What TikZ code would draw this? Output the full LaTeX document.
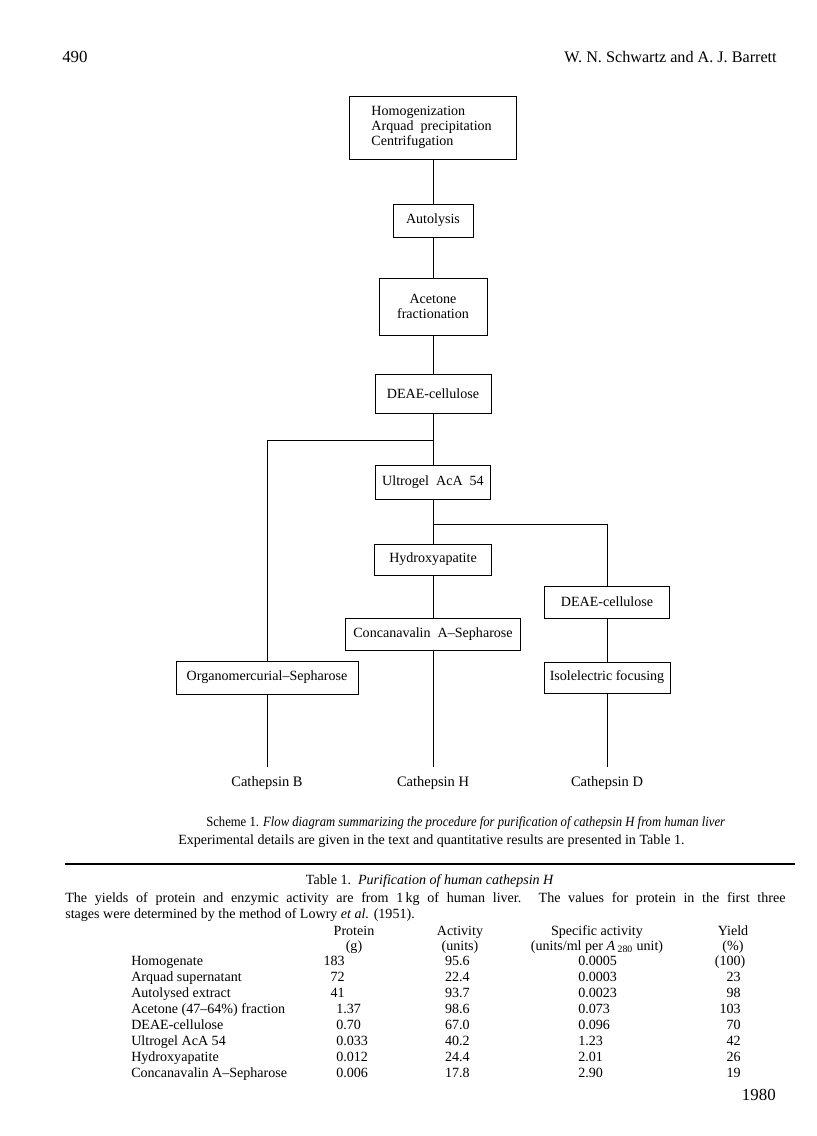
\documentclass[tikz,border=0pt]{standalone}
\usepackage{fontspec}
\setmainfont{Liberation Serif}
\begin{document}
\begin{tikzpicture}[x=0.025cm,y=-0.025cm,
    box/.style={draw, line width=0.6pt, inner sep=0pt, align=center, font=\fontsize{10}{10.6}\selectfont},
    link/.style={line width=0.6pt},
    lbl/.style={inner sep=0pt, font=\fontsize{10.3}{12}\selectfont},
    cell/.style={inner sep=0pt, font=\fontsize{10}{11}\selectfont}]
\useasboundingbox (0,0) rectangle (816,1136);
% Page heading
\node[lbl, anchor=base west, font=\fontsize{12}{14}\selectfont] (pgno) at (62,63) {490};
\node[lbl, anchor=base east, font=\fontsize{11.5}{14}\selectfont] (authors) at (777,63) {W. N. Schwartz and A. J. Barrett};
% Main column
\node[box, minimum width=4.175cm, minimum height=1.575cm, text width=3.075cm, inner xsep=0.55cm, align=left] (homog) at (433,127.5) {Homogenization\\Arquad\enspace precipitation\\Centrifugation};
\node[box, minimum width=2cm, minimum height=0.825cm] (autol) at (433,220.5) {Autolysis};
\node[box, minimum width=2.7cm, minimum height=1.425cm] (aceton) at (433,306.5) {Acetone\\fractionation};
\node[box, minimum width=2.9cm, minimum height=0.975cm] (deae) at (433,393.5) {DEAE-cellulose};
\node[box, minimum width=2.875cm, minimum height=0.85cm] (ultro) at (433,482) {Ultrogel\enspace AcA\enspace 54};
\node[box, minimum width=2.925cm, minimum height=0.775cm] (hydro) at (433,559.5) {Hydroxyapatite};
\node[box, minimum width=4.375cm, minimum height=0.8cm] (conca) at (433,634) {Concanavalin\enspace A–Sepharose};
% Side branches
\node[box, minimum width=4.55cm, minimum height=0.825cm] (organo) at (267,677.5) {Organomercurial–Sepharose};
\node[box, minimum width=3.125cm, minimum height=0.8cm] (deaeb) at (607,602) {DEAE-cellulose};
\node[box, minimum width=3.15cm, minimum height=0.775cm] (isoel) at (607,677.5) {Isolelectric focusing};
% Products
\node[lbl] (catB) at (267,783) {Cathepsin B};
\node[lbl] (catH) at (433,783) {Cathepsin H};
\node[lbl] (catD) at (607,783) {Cathepsin D};
\coordinate (forkB) at (433,440);
\coordinate (forkD) at (433,524);
\coordinate (endB) at (267,767);
\coordinate (endH) at (433,767);
\coordinate (endD) at (607,767);
% Connectors
\draw[link] (homog) -- (autol) -- (aceton) -- (deae) -- (ultro) -- (hydro) -- (conca) -- (endH);
\draw[link] (forkB) -| (organo) -- (endB);
\draw[link] (forkD) -| (deaeb) -- (isoel) -- (endD);
% Caption
\node[cell, anchor=base west] (scheme) at (206,826) {\scalebox{0.9}[1]{Scheme 1. \textit{Flow diagram summarizing the procedure for purification of cathepsin H from human liver}}};
\node[cell, anchor=base west] (details) at (178,844) {Experimental details are given in the text and quantitative results are presented in Table 1.};
\draw[line width=1.2pt] (65,864) -- (795,864);
% Table
\node[cell, anchor=base] (tabtitle) at (430,884) {Table 1.\enspace\textit{Purification of human cathepsin H}};
\node[cell, anchor=base west, text width=18cm, align=justify, font=\fontsize{10}{11.8}\selectfont] (tabnote) at (65,902) {The yields of protein and enzymic activity are from 1\,kg of human liver. The values for protein in the first three\linebreak stages were determined by the method of Lowry \textit{et al.} (1951).};
\node[cell, anchor=base] (hprot) at (354,935) {Protein};
\node[cell, anchor=base] (hprotu) at (354,950) {(g)};
\node[cell, anchor=base] (hact) at (460,935) {Activity};
\node[cell, anchor=base] (hactu) at (460,950) {(units)};
\node[cell, anchor=base] (hspec) at (597,935) {Specific activity};
\node[cell, anchor=base] (hspecu) at (597,950) {(units/ml per \textit{A}\,\textsubscript{280} unit)};
\node[cell, anchor=base] (hyld) at (733,935) {Yield};
\node[cell, anchor=base] (hyldu) at (733,950) {(\%)};
% Rows
\node[cell, anchor=base west] (r1) at (131,965) {Homogenate};
\node[cell, anchor=base east] (r1p) at (345,965) {183};
\node[cell, anchor=base east] (r1a) at (470,965) {95.6};
\node[cell, anchor=base west] (r1s) at (578,965) {0.0005};
\node[cell, anchor=base east] (r1y) at (741,965) {(100\rlap{)}};
\node[cell, anchor=base west] (r2) at (131,981) {Arquad supernatant};
\node[cell, anchor=base east] (r2p) at (345,981) {72};
\node[cell, anchor=base east] (r2a) at (470,981) {22.4};
\node[cell, anchor=base west] (r2s) at (578,981) {0.0003};
\node[cell, anchor=base east] (r2y) at (741,981) {23};
\node[cell, anchor=base west] (r3) at (131,997) {Autolysed extract};
\node[cell, anchor=base east] (r3p) at (345,997) {41};
\node[cell, anchor=base east] (r3a) at (470,997) {93.7};
\node[cell, anchor=base west] (r3s) at (578,997) {0.0023};
\node[cell, anchor=base east] (r3y) at (741,997) {98};
\node[cell, anchor=base west] (r4) at (131,1013) {Acetone (47–64\%) fraction};
\node[cell, anchor=base west] (r4p) at (336,1013) {1.37};
\node[cell, anchor=base east] (r4a) at (470,1013) {98.6};
\node[cell, anchor=base west] (r4s) at (578,1013) {0.073};
\node[cell, anchor=base east] (r4y) at (741,1013) {103};
\node[cell, anchor=base west] (r5) at (131,1029) {DEAE-cellulose};
\node[cell, anchor=base west] (r5p) at (336,1029) {0.70};
\node[cell, anchor=base east] (r5a) at (470,1029) {67.0};
\node[cell, anchor=base west] (r5s) at (578,1029) {0.096};
\node[cell, anchor=base east] (r5y) at (741,1029) {70};
\node[cell, anchor=base west] (r6) at (131,1045) {Ultrogel AcA 54};
\node[cell, anchor=base west] (r6p) at (336,1045) {0.033};
\node[cell, anchor=base east] (r6a) at (470,1045) {40.2};
\node[cell, anchor=base west] (r6s) at (578,1045) {1.23};
\node[cell, anchor=base east] (r6y) at (741,1045) {42};
\node[cell, anchor=base west] (r7) at (131,1061) {Hydroxyapatite};
\node[cell, anchor=base west] (r7p) at (336,1061) {0.012};
\node[cell, anchor=base east] (r7a) at (470,1061) {24.4};
\node[cell, anchor=base west] (r7s) at (578,1061) {2.01};
\node[cell, anchor=base east] (r7y) at (741,1061) {26};
\node[cell, anchor=base west] (r8) at (131,1077) {Concanavalin A–Sepharose};
\node[cell, anchor=base west] (r8p) at (336,1077) {0.006};
\node[cell, anchor=base east] (r8a) at (470,1077) {17.8};
\node[cell, anchor=base west] (r8s) at (578,1077) {2.90};
\node[cell, anchor=base east] (r8y) at (741,1077) {19};
% Folio
\node[lbl, anchor=base east, font=\fontsize{12}{14}\selectfont] (folio) at (776,1100) {1980};
\end{tikzpicture}
\end{document}
